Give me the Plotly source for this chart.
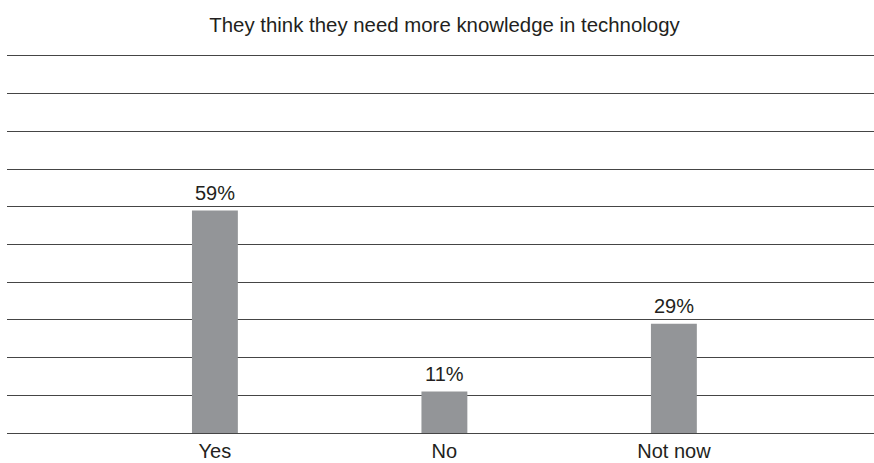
import plotly.graph_objects as go

categories = ["Yes", "No", "Not now"]
values = [59, 11, 29]
labels = ["59%", "11%", "29%"]

FONT = "Liberation Sans, Arial, Helvetica, sans-serif"
TXT = "#231f20"

fig = go.Figure(go.Bar(
    x=categories, y=values,
    marker=dict(color="#939598", line=dict(width=0)),
    width=0.2, hoverinfo="skip",
))

for c, v, t in zip(categories, values, labels):
    fig.add_annotation(x=c, y=v, text=t, showarrow=False, yanchor="bottom",
                       yshift=5, font=dict(size=20, color=TXT, family=FONT))

fig.update_layout(
    width=874, height=463,
    margin=dict(l=7, r=0, t=54, b=30, autoexpand=False),
    paper_bgcolor="white", plot_bgcolor="white",
    showlegend=False,
    font=dict(family=FONT, color=TXT, size=20),
    title=dict(text="They think they need more knowledge in technology",
               x=0.5086, xanchor="center", y=0.947, yanchor="middle",
               font=dict(size=20.4, color=TXT)),
)
fig.update_xaxes(range=[-0.906, 2.872], showgrid=False, showline=False, ticks="",
                 tickfont=dict(size=20, color=TXT), ticklabelstandoff=4, automargin=False)
fig.update_yaxes(range=[0, 100.5], dtick=10, showgrid=True, gridcolor="#454545", gridwidth=1,
                 showticklabels=False, zeroline=True, zerolinecolor="#454545", zerolinewidth=1,
                 showline=False, automargin=False)

fig.write_html("out.html", config={"displayModeBar": False, "staticPlot": True},
               post_script="document.body.style.margin='0';document.body.style.overflow='hidden';")
